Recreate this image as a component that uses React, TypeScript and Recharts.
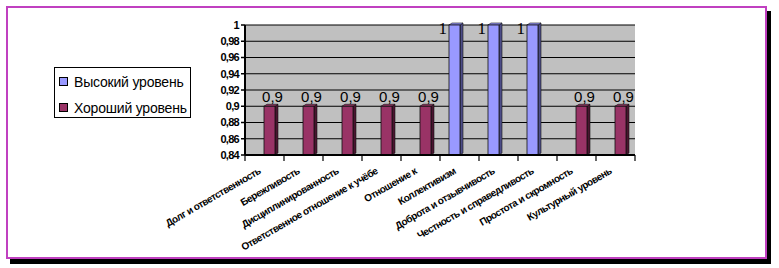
import { BarChart, Bar, XAxis, YAxis, CartesianGrid, LabelList } from "recharts";

const categories = [
  "Долг и ответственность",
  "Бережливость",
  "Дисциплинированность",
  "Ответственное отношение к учёбе",
  "Отношение к",
  "Коллективизм",
  "Доброта и  отзывчивость",
  "Честность и справедливость",
  "Простота и скромность",
  "Культурный уровень",
];
const highLevel = [null, null, null, null, null, 1, 1, 1, null, null];
const goodLevel = [0.9, 0.9, 0.9, 0.9, 0.9, null, null, null, 0.9, 0.9];
const yTicks = [0.84, 0.86, 0.88, 0.9, 0.92, 0.94, 0.96, 0.98, 1];

const seriesNames = { high: "Высокий уровень", good: "Хороший уровень" };

const data = categories.map((name, i) => ({ name, high: highLevel[i], good: goodLevel[i] }));

const fmt = (v: number) => String(v).replace(".", ",");

const narrow = "'Liberation Sans Narrow', 'Liberation Sans', Arial, sans-serif";

function Bar3D(props: any) {
  const { x, y, width, height, fill, side } = props;
  if (!height || height <= 0) return null;
  const d = 3;
  return (
    <g>
      <polygon points={`${x + width},${y} ${x + width + d},${y - 2} ${x + width + d},${y + height - 2} ${x + width},${y + height}`} fill={side} stroke="#111" strokeWidth={0.6} />
      <polygon points={`${x},${y} ${x + d},${y - 2} ${x + width + d},${y - 2} ${x + width},${y}`} fill={fill} stroke="#111" strokeWidth={0.6} />
      <rect x={x} y={y} width={width} height={height} fill={fill} stroke="#111" strokeWidth={0.8} />
    </g>
  );
}

function XTick(props: any) {
  const { x, y, payload, index, visibleTicksCount } = props;
  const half = 19.5;
  return (
    <g>
      <line x1={x - half} y1={y - 8} x2={x - half} y2={y - 2} stroke="#000" strokeWidth={1.2} />
      {index === visibleTicksCount - 1 && (
        <line x1={x + half} y1={y - 8} x2={x + half} y2={y - 2} stroke="#000" strokeWidth={1.2} />
      )}
      <text
        x={x - 3}
        y={y + 10}
        transform={`rotate(-30 ${x - 3} ${y + 10})`}
        textAnchor="end"
        fontFamily={narrow}
        fontSize={10}
        fontWeight="bold"
        letterSpacing={-0.5}
        fill="#000"
      >
        {payload.value}
      </text>
    </g>
  );
}

function HighLabel(props: any) {
  const { x, y, value } = props;
  if (value == null) return null;
  return (
    <text x={x - 2} y={y + 9} textAnchor="end" fontFamily="'Liberation Serif', 'Times New Roman', serif" fontSize={17} fill="#000">
      {fmt(value)}
    </text>
  );
}

function GoodLabel(props: any) {
  const { x, y, width, value } = props;
  if (value == null) return null;
  return (
    <text x={x + width / 2 + 3} y={y - 4} textAnchor="middle" fontFamily="'Liberation Sans', Arial, sans-serif" fontSize={15} fill="#000">
      {fmt(value)}
    </text>
  );
}

function LegendBox() {
  const items = [
    { name: seriesNames.high, color: "#9999FF" },
    { name: seriesNames.good, color: "#993366" },
  ];
  return (
    <div
      style={{
        position: "absolute",
        left: 54,
        top: 67,
        width: 137,
        height: 51,
        border: "1px solid #000",
        background: "#fff",
        boxSizing: "border-box",
        padding: "3px 0 0 4px",
      }}
    >
      {items.map((it) => (
        <div key={it.name} style={{ display: "flex", alignItems: "center", height: 21, marginBottom: 5 }}>
          <span style={{ width: 7, height: 7, background: it.color, border: "1px solid #000", marginRight: 6 }} />
          <span style={{ fontFamily: narrow, fontSize: 14, letterSpacing: -0.2, color: "#000", whiteSpace: "nowrap" }}>{it.name}</span>
        </div>
      ))}
    </div>
  );
}

export default function App() {
  return (
    <div style={{ position: "absolute", left: 0, top: 0, width: 779, height: 268, background: "#fff" }}>
      <div
        style={{
          position: "absolute",
          left: 6,
          top: 6,
          width: 761,
          height: 253,
          border: "2px solid #C040C0",
          boxSizing: "border-box",
          boxShadow: "4px 5px 0 #000",
        }}
      />
      <div style={{ position: "absolute", left: 0, top: 0 }}>
        <BarChart
          width={779}
          height={268}
          data={data}
          margin={{ top: 25, right: 144, bottom: 0, left: 205 }}
          barSize={11}
          barGap={-1}
        >
          <CartesianGrid vertical={false} stroke="#000" strokeWidth={1.2} fill="#C0C0C0" fillOpacity={1} />
          <XAxis
            dataKey="name"
            interval={0}
            tick={<XTick />}
            tickLine={false}
            axisLine={{ stroke: "#000", strokeWidth: 2 }}
            height={113}
          />
          <YAxis
            domain={[0.84, 1]}
            ticks={yTicks}
            interval={0}
            width={40}
            tickFormatter={fmt}
            tickSize={4}
            tickLine={{ stroke: "#000", strokeWidth: 1.5 }}
            axisLine={{ stroke: "#000", strokeWidth: 2 }}
            tick={{ fontFamily: narrow, fontSize: 11, fontWeight: "bold", fill: "#000", letterSpacing: -0.7 }}
          />
          <Bar dataKey="high" name={seriesNames.high} fill="#9999FF" shape={<Bar3D side="#4D4D88" />} isAnimationActive={false}>
            <LabelList dataKey="high" content={<HighLabel />} />
          </Bar>
          <Bar dataKey="good" name={seriesNames.good} fill="#993366" shape={<Bar3D side="#4A1530" />} isAnimationActive={false}>
            <LabelList dataKey="good" content={<GoodLabel />} />
          </Bar>
        </BarChart>
      </div>
      <LegendBox />
    </div>
  );
}
